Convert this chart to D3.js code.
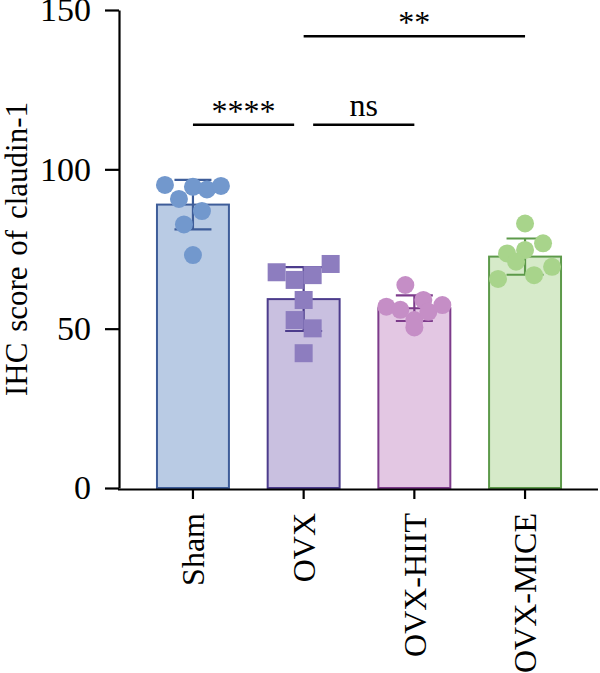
<!DOCTYPE html>
<html><head><meta charset="utf-8">
<script src="https://cdn.jsdelivr.net/npm/d3@7"></script>
<style>html,body{margin:0;padding:0;background:#fff;}svg{display:block;}</style>
</head><body>
<script>
const categories = ["Sham", "OVX", "OVX-HIIT", "OVX-MICE"];
const shamValues = [95.1, 90.7, 94.5, 93.7, 94.8, 82.7, 86.9, 73.1];
const ovxValues = [67.7, 65.3, 66.8, 70.3, 59.0, 52.7, 50.1, 42.3];
const hiitValues = [63.7, 59.0, 56.9, 55.9, 52.7, 55.3, 57.4, 50.4];
const miceValues = [83.0, 73.6, 74.7, 76.8, 65.6, 71.0, 66.8, 69.4];
const yTicks = [0, 50, 100, 150];
const comparisons = [
  {from: "Sham", to: "OVX", label: "****", level: 114},
  {from: "OVX", to: "OVX-HIIT", label: "ns", level: 114},
  {from: "OVX", to: "OVX-MICE", label: "**", level: 141.8}
];
const yTitle = "IHC score of claudin-1";

const groupValues = [shamValues, ovxValues, hiitValues, miceValues];
const fills = ["#b9cbe4", "#c9c0e0", "#e3c7e3", "#d6eac9"];
const strokes = ["#3e5d99", "#4c3c8c", "#7d3b8b", "#5d9a4a"];
const pointColors = ["#7298cd", "#8d7dbf", "#c58ec6", "#a8d48b"];
const shapes = ["circle", "square", "circle", "circle"];

const W = 600, H = 673;
const svg = d3.select("body").append("svg").attr("width", W).attr("height", H);
const font = "'Liberation Serif', 'Times New Roman', serif";

const y = d3.scaleLinear().domain([0, 150]).range([488, 10]);
const x = d3.scaleBand().domain(categories).range([137.6, 580.4]).paddingInner(0.35).paddingOuter(0.175);
const cx = c => x(c) + x.bandwidth() / 2;

// bars
const stats = categories.map((c, i) => ({
  c, i, mean: d3.mean(groupValues[i]), sd: d3.deviation(groupValues[i])
}));
svg.append("g").selectAll("rect").data(stats).join("rect")
  .attr("x", d => x(d.c)).attr("width", x.bandwidth())
  .attr("y", d => y(d.mean)).attr("height", d => y(0) - y(d.mean))
  .attr("fill", d => fills[d.i]).attr("stroke", d => strokes[d.i]).attr("stroke-width", 2);

// error bars
const capW = 37;
const eb = svg.append("g").selectAll("g").data(stats).join("g")
  .attr("stroke", d => strokes[d.i]).attr("stroke-width", 2.2);
eb.append("line").attr("x1", d => cx(d.c)).attr("x2", d => cx(d.c))
  .attr("y1", d => y(d.mean + d.sd)).attr("y2", d => y(d.mean - d.sd));
eb.append("line").attr("x1", d => cx(d.c) - capW / 2).attr("x2", d => cx(d.c) + capW / 2)
  .attr("y1", d => y(d.mean + d.sd)).attr("y2", d => y(d.mean + d.sd));
eb.append("line").attr("x1", d => cx(d.c) - capW / 2).attr("x2", d => cx(d.c) + capW / 2)
  .attr("y1", d => y(d.mean - d.sd)).attr("y2", d => y(d.mean - d.sd));

// points: row-binned scatter (points close in value share a row, spread horizontally)
const ptSize = 18, rowSpan = 56, maxStep = 18;
categories.forEach((c, i) => {
  const vals = groupValues[i].map((v, k) => ({v, k, py: y(v)}));
  const sorted = vals.slice().sort((a, b) => a.py - b.py);
  const rows = [];
  sorted.forEach(p => {
    const r = rows[rows.length - 1];
    if (r && p.py - r[0].py < ptSize) r.push(p); else rows.push([p]);
  });
  rows.forEach(r => {
    r.sort((a, b) => a.k - b.k);
    const step = r.length > 1 ? Math.min(maxStep, rowSpan / (r.length - 1)) : 0;
    r.forEach((p, j) => { p.px = (j - (r.length - 1) / 2) * step; });
  });
  const g = svg.append("g").attr("fill", pointColors[i]);
  if (shapes[i] === "circle") {
    g.selectAll("circle").data(vals).join("circle")
      .attr("cx", d => cx(c) + d.px).attr("cy", d => d.py).attr("r", ptSize / 2);
  } else {
    g.selectAll("rect").data(vals).join("rect")
      .attr("x", d => cx(c) + d.px - ptSize / 2).attr("y", d => d.py - ptSize / 2)
      .attr("width", ptSize).attr("height", ptSize);
  }
});

// y axis
const yAxis = svg.append("g").attr("transform", "translate(119,0)")
  .call(d3.axisLeft(y).tickValues(yTicks).tickSize(14).tickPadding(14).tickSizeOuter(0));
yAxis.select(".domain").attr("stroke", "#000").attr("stroke-width", 2.2);
yAxis.selectAll(".tick line").attr("stroke", "#000").attr("stroke-width", 2.2);
yAxis.selectAll(".tick text").attr("font-family", font).attr("font-size", 34).attr("fill", "#000");

// x axis
const xAxis = svg.append("g").attr("transform", "translate(0,489)")
  .call(d3.axisBottom(x).tickSize(10).tickSizeOuter(0));
xAxis.select(".domain").attr("d", "M118,0.5H598").attr("stroke", "#000").attr("stroke-width", 2.2);
xAxis.selectAll(".tick line").attr("stroke", "#000").attr("stroke-width", 2.2);
xAxis.selectAll(".tick text")
  .attr("font-family", font).attr("font-size", 32).attr("fill", "#000")
  .attr("text-anchor", "end").attr("transform", "rotate(-90)")
  .attr("x", -24).attr("y", 0).attr("dy", "0.35em");

// y title
svg.append("text").attr("transform", `translate(27,${(y(0) + y(150)) / 2}) rotate(-90)`)
  .attr("text-anchor", "middle").attr("font-family", font).attr("font-size", 31)
  .attr("word-spacing", 3).text(yTitle);

// significance
const gap = 9.5;
comparisons.forEach(cmp => {
  let x1 = cx(cmp.from), x2 = cx(cmp.to);
  if (cmp.level < 130) {
    if (cmp.from === "Sham") x2 -= gap; else x1 += gap;
  }
  const ly = y(cmp.level);
  svg.append("line").attr("x1", x1).attr("x2", x2).attr("y1", ly).attr("y2", ly)
    .attr("stroke", "#000").attr("stroke-width", 2.5);
  svg.append("text").attr("x", (x1 + x2) / 2).attr("y", ly - (cmp.label === "ns" ? 9 : 3))
    .attr("text-anchor", "middle").attr("font-family", font).attr("font-size", 32)
    .text(cmp.label);
});
</script>
</body></html>
